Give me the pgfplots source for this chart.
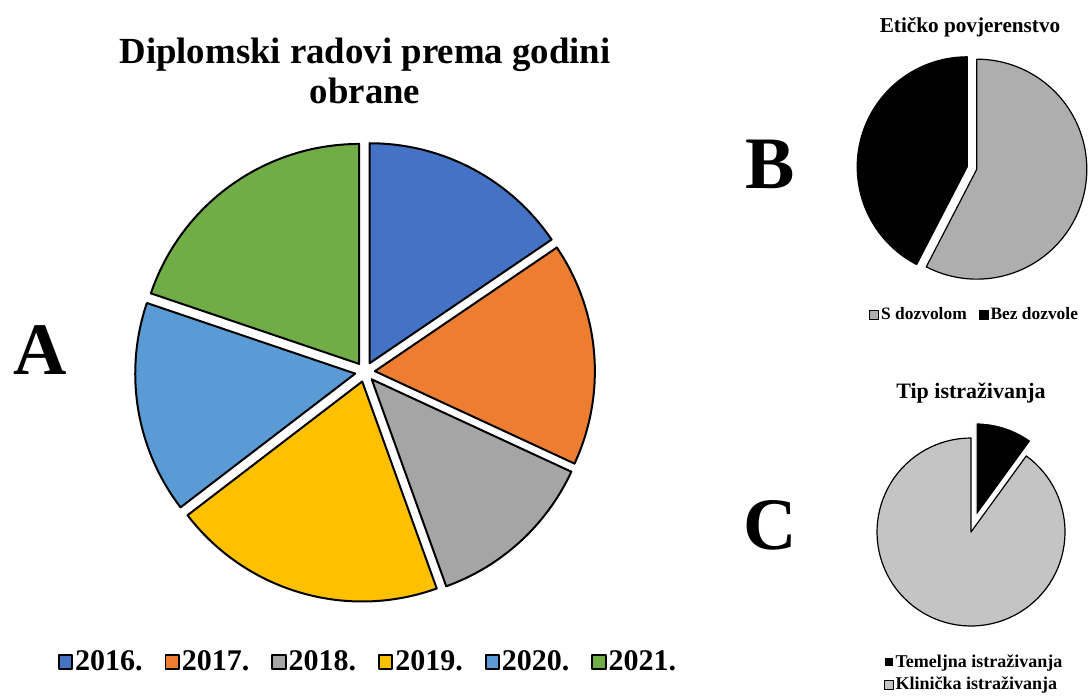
\documentclass[border=0pt]{standalone}
\usepackage{pgfplots}
\pgfplotsset{compat=1.18}
\usepackage{fontspec}
\setmainfont{Liberation Serif}
\definecolor{c16}{HTML}{4472C4}
\definecolor{c17}{HTML}{ED7D31}
\definecolor{c18}{HTML}{A5A5A5}
\definecolor{c19}{HTML}{FFC000}
\definecolor{c20}{HTML}{5B9BD5}
\definecolor{c21}{HTML}{70AD47}
\definecolor{grayB}{HTML}{AEAEAE}
\definecolor{grayC}{HTML}{C4C4C4}
% #1 style, #2 cumulative percent before slice, #3 percent, #4 explode, #5 legend
\newcommand\pieslice[5]{%
\addplot[#1, domain={90-3.6*(#2+#3)}:{90-3.6*(#2)}, samples=90, variable=\t]
 ({#4*cos(90-3.6*(#2+0.5*#3))+cos(\t)}, {#4*sin(90-3.6*(#2+0.5*#3))+sin(\t)})
 -- (axis cs:{#4*cos(90-3.6*(#2+0.5*#3))},{#4*sin(90-3.6*(#2+0.5*#3))}) -- cycle;
\addlegendentry{#5}}
\pgfplotsset{
  pie/.style={hide axis, clip=false, scale only axis, xmin=-1, xmax=1, ymin=-1, ymax=1,
    anchor=center},
}
\begin{document}
\begin{tikzpicture}
\useasboundingbox (0,0) rectangle (545pt,347.5pt);
% ---------------- A ----------------
\begin{axis}[pie, at={(182.5pt,161.5pt)}, width=220pt, height=220pt,
  every axis plot/.append style={draw=black, line width=1pt, line join=round},
  legend style={at={(0.507,-0.159)}, anchor=center, draw=none, fill=none,
    legend columns=6, font=\fontsize{15}{18}\selectfont\bfseries,
    nodes={inner xsep=1pt},
    /tikz/every even column/.append style={column sep=10pt}},
  legend image code/.code={\draw[#1, line width=0.9pt] (0.3pt,-3.4pt) rectangle (7pt,3.4pt);}]
\pieslice{fill=c16}{0}{15.5}{0.045}{2016.}
\pieslice{fill=c17}{15.5}{16.4}{0.045}{2017.}
\pieslice{fill=c18}{31.9}{12.6}{0.045}{2018.}
\pieslice{fill=c19}{44.5}{20.1}{0.045}{2019.}
\pieslice{fill=c20}{64.6}{15.6}{0.045}{2020.}
\pieslice{fill=c21}{80.2}{19.8}{0.045}{2021.}
\node[align=center, font=\fontsize{18.4}{20}\selectfont\bfseries] at (axis cs:0,1.37) {Diplomski radovi prema godini\\obrane};
\node[font=\fontsize{37}{40}\selectfont\bfseries] at (axis cs:-1.477,0.1) {A};
\end{axis}
% ---------------- B ----------------
\begin{axis}[pie, at={(486pt,263.5pt)}, width=110pt, height=110pt,
  every axis plot/.append style={line width=0.6pt, line join=round},
  legend style={at={(1.02,-0.168)}, anchor=east, draw=none, fill=none,
    legend columns=2, font=\fontsize{8.7}{11}\selectfont\bfseries,
    nodes={inner xsep=1pt},
    /tikz/every even column/.append style={column sep=5pt}},
  legend image code/.code={\draw[#1, line width=0.5pt] (0pt,-2.2pt) rectangle (4.4pt,2.2pt);}]
\pieslice{fill=grayB, draw=black}{0}{57.6}{0.045}{S dozvolom}
\pieslice{fill=black, draw=black}{57.6}{42.4}{0.045}{Bez dozvole}
\node[font=\fontsize{10.6}{12}\selectfont\bfseries] at (axis cs:-0.018,1.28) {Etičko povjerenstvo};
\node[font=\fontsize{37}{40}\selectfont\bfseries] at (axis cs:-1.836,0.03) {B};
\end{axis}
% ---------------- C ----------------
\begin{axis}[pie, at={(485.5pt,81.5pt)}, width=94pt, height=94pt,
  every axis plot/.append style={line width=0.6pt, line join=round},
  legend style={at={(0.516,-0.253)}, anchor=center, draw=none, fill=none,
    legend columns=1, font=\fontsize{9}{11}\selectfont\bfseries,
    nodes={inner xsep=1pt, inner ysep=1.7pt}, legend cell align=left},
  legend image code/.code={\draw[#1, line width=0.5pt] (0pt,-2.2pt) rectangle (4.4pt,2.2pt);}]
\pieslice{fill=black, draw=white}{0}{10}{0.17}{Temeljna istraživanja}
\pieslice{fill=grayC, draw=black}{10}{90}{0}{Klinička istraživanja}
\node[font=\fontsize{11}{13}\selectfont\bfseries] at (axis cs:0,1.48) {Tip istraživanja};
\node[font=\fontsize{37}{40}\selectfont\bfseries] at (axis cs:-2.14,0.07) {C};
\end{axis}
\end{tikzpicture}
\end{document}
